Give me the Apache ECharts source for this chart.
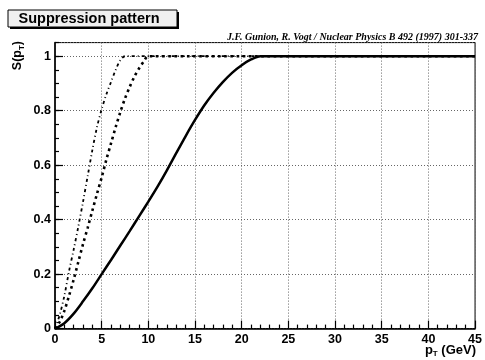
<!DOCTYPE html>
<html>
<head>
<meta charset="utf-8">
<script src="https://cdn.jsdelivr.net/npm/echarts@6/dist/echarts.min.js"></script>
<style>html,body{margin:0;padding:0;background:#fff;}#c{width:485px;height:360px;}</style>
</head>
<body>
<div id="c"></div>
<script>
// Solid curve
const solidX = [0,1,2,3,4,5,6,7,8,9,10,11,12,13,14,15,16,17,18,19,20,21,22,45];
const solidY = [0,0.02,0.055,0.1,0.148,0.2,0.252,0.305,0.358,0.412,0.466,0.522,0.582,0.645,0.707,0.766,0.82,0.866,0.906,0.94,0.967,0.988,1.0,1.0];
// Dotted curve (square dots)
const dotX = [0,0.5,1,1.5,2,2.5,3,3.5,4,4.5,5,5.5,6,6.5,7,7.5,8,8.5,9,9.5,10,45];
const dotY = [0,0.025,0.065,0.12,0.18,0.245,0.31,0.37,0.433,0.495,0.555,0.62,0.68,0.74,0.795,0.845,0.887,0.925,0.955,0.98,1.0,1.0];
// Dash-dot curve
const ddX = [0,0.5,1,1.5,2,2.5,3,3.5,4,4.5,5,5.5,6,6.5,7,7.5,45];
const ddY = [0,0.05,0.12,0.21,0.29,0.375,0.465,0.56,0.655,0.74,0.805,0.86,0.905,0.95,0.985,1.0,1.0];

const xTicks = [0,5,10,15,20,25,30,35,40,45];
const yTicks = [0,0.2,0.4,0.6,0.8,1];

function zip(xs, ys){ return xs.map((x,i)=>[x, ys[i]]); }

const chart = echarts.init(document.getElementById('c'), null, {renderer:'canvas'});
const FONT = 'Liberation Sans, Arial, sans-serif';
chart.setOption({
  animation:false,
  backgroundColor:'#fff',
  grid:{left:55, right:8, top:42.6, bottom:31.4, show:true, borderColor:'#000', borderWidth:1, backgroundColor:'transparent'},
  xAxis:{
    type:'value', min:0, max:45, interval:5,
    axisLine:{show:true, onZero:false, lineStyle:{color:'#000', width:1.5}},
    axisTick:{show:true, inside:true, length:8, lineStyle:{color:'#000', width:1.2}},
    minorTick:{show:true, splitNumber:5, length:4, lineStyle:{color:'#000', width:1.2}},
    axisLabel:{color:'#000', fontFamily:FONT, fontWeight:'bold', fontSize:12.5, margin:4,
      formatter:v=> xTicks.indexOf(v)>=0 ? String(v) : ''},
    splitLine:{show:true, lineStyle:{color:'#666', type:[1,2], width:1}}
  },
  yAxis:[{
    type:'value', min:0, max:1.05, interval:0.2, position:'left',
    axisLine:{show:true, onZero:false, lineStyle:{color:'#000', width:1.5}},
    axisTick:{show:true, inside:true, length:8, lineStyle:{color:'#000', width:1.2}},
    axisLabel:{color:'#000', fontFamily:FONT, fontWeight:'bold', fontSize:12.5, margin:4,
      showMaxLabel:false,
      formatter:v=>{ const t = yTicks.find(a=>Math.abs(a-v)<1e-6); return t===undefined ? '' : String(t); }},
    splitLine:{show:true, lineStyle:{color:'#666', type:[1,2], width:1}}
  },{
    type:'value', min:0, max:1.05, interval:0.05, position:'left',
    axisLine:{show:false},
    axisTick:{show:true, inside:true, length:4, lineStyle:{color:'#000', width:1.2}},
    axisLabel:{show:false},
    splitLine:{show:false}
  }],
  series:[
    {type:'line', data:zip(solidX, solidY), showSymbol:false, smooth:0.3,
      lineStyle:{color:'#000', width:2.5}},
    {type:'line', data:zip(dotX, dotY), showSymbol:false, smooth:0.3,
      lineStyle:{color:'#000', width:2.6, type:[2.6,3.6], cap:'butt'}},
    {type:'line', data:zip(ddX, ddY), showSymbol:false, smooth:0.3,
      lineStyle:{color:'#000', width:1.8, type:[3,3,1,3], cap:'butt'}}
  ],
  graphic:[
    {type:'rect', shape:{x:10, y:12, width:169, height:17}, style:{fill:'#000'}, z:10},
    {type:'rect', shape:{x:8, y:10, width:169, height:17}, style:{fill:'#f0f0f0', stroke:'#000', lineWidth:1}, z:11},
    {type:'text', x:89, y:19, z:12, style:{text:'Suppression pattern', font:'bold 14.5px '+FONT, fill:'#000', align:'center', verticalAlign:'middle'}},
    {type:'text', x:478, y:37, z:12, style:{text:'J.F. Gunion, R. Vogt / Nuclear Physics B 492 (1997) 301-337', font:'italic bold 10px "Liberation Serif", "Times New Roman", serif', fill:'#000', align:'right', verticalAlign:'middle'}},
    {type:'text', x:18, y:41, rotation:Math.PI/2, z:12, style:{text:'{a|S(p}{s|T}{a|)}', align:'right', verticalAlign:'middle',
      rich:{a:{font:'bold 12.5px '+FONT, fill:'#000', lineHeight:16, verticalAlign:'middle'}, s:{font:'bold 8px '+FONT, fill:'#000', lineHeight:16, padding:[7,0,0,0]}}}},
    {type:'text', x:476, y:350, z:12, style:{text:'{a|p}{s|T}{a| (GeV)}', align:'right', verticalAlign:'middle',
      rich:{a:{font:'bold 13px '+FONT, fill:'#000', lineHeight:16}, s:{font:'bold 8px '+FONT, fill:'#000', lineHeight:16, padding:[7,0,0,0]}}}}
  ]
});
</script>
</body>
</html>
